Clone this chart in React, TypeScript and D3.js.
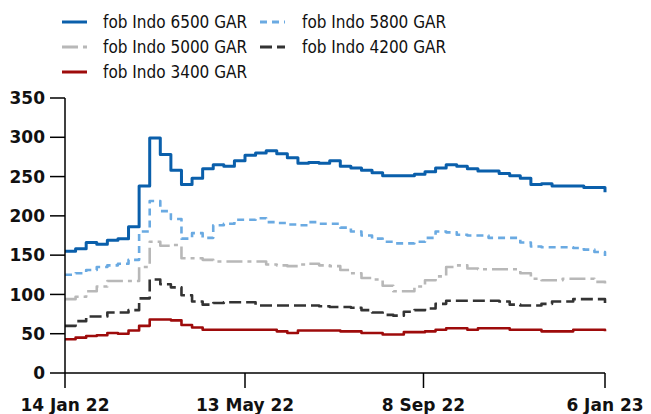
import React from "react";
import * as d3 from "d3";

const startDate = new Date(Date.UTC(2022, 0, 14));
const weeks: Date[] = d3.range(52).map((i) => d3.utcDay.offset(startDate, i * 7));

const fob6500 = [155, 158, 166, 164, 169, 171, 186, 238, 299, 278, 258, 240, 248, 260, 265, 263, 270, 277, 280, 283, 279, 274, 267, 268, 267, 270, 263, 261, 258, 255, 251, 251, 251, 253, 256, 261, 265, 263, 260, 257, 257, 254, 251, 248, 240, 241, 238, 238, 238, 236, 236, 230];
const fob5800 = [125, 127, 131, 135, 137, 139, 144, 180, 219, 206, 196, 171, 178, 172, 188, 190, 195, 195, 197, 192, 191, 189, 188, 192, 190, 190, 185, 180, 175, 171, 167, 165, 165, 167, 172, 180, 179, 176, 175, 175, 172, 172, 172, 166, 161, 160, 160, 160, 159, 157, 154, 149];
const fob5000 = [94, 97, 104, 110, 117, 117, 117, 135, 167, 162, 163, 146, 146, 144, 142, 142, 142, 142, 142, 138, 137, 136, 138, 139, 137, 136, 131, 127, 121, 119, 111, 104, 104, 110, 118, 123, 135, 137, 133, 132, 132, 132, 132, 127, 120, 118, 118, 120, 120, 120, 116, 114];
const fob4200 = [60, 66, 72, 72, 77, 77, 80, 95, 119, 113, 109, 99, 91, 87, 89, 90, 90, 90, 86, 86, 86, 86, 86, 86, 85, 84, 84, 83, 80, 77, 74, 73, 78, 80, 82, 88, 92, 92, 92, 92, 92, 91, 87, 86, 86, 88, 91, 91, 94, 94, 94, 89];
const fob3400 = [43, 45, 47, 48, 51, 50, 54, 60, 68, 68, 67, 61, 58, 55, 55, 55, 55, 55, 55, 55, 53, 51, 54, 54, 54, 54, 53, 53, 51, 51, 49, 49, 52, 52, 53, 55, 57, 57, 55, 57, 57, 57, 55, 55, 55, 53, 53, 53, 55, 55, 55, 53];

const seriesNames = ["fob Indo 6500 GAR", "fob Indo 5800 GAR", "fob Indo 5000 GAR", "fob Indo 4200 GAR", "fob Indo 3400 GAR"];
const yTicks = [0, 50, 100, 150, 200, 250, 300, 350];
const xTickDates = [
  new Date(Date.UTC(2022, 0, 14)),
  new Date(Date.UTC(2022, 4, 13)),
  new Date(Date.UTC(2022, 8, 8)),
  new Date(Date.UTC(2023, 0, 6)),
];

const series = [
  { name: seriesNames[0], values: fob6500, color: "#0a5fab", width: 3, dash: "" },
  { name: seriesNames[1], values: fob5800, color: "#6aaae2", width: 2.6, dash: "7,5" },
  { name: seriesNames[2], values: fob5000, color: "#b8b8b8", width: 2.6, dash: "16,5,4,5" },
  { name: seriesNames[3], values: fob4200, color: "#333333", width: 2.6, dash: "12,5" },
  { name: seriesNames[4], values: fob3400, color: "#9e0b0b", width: 2.6, dash: "" },
];

const legendLayout = [
  { col: 0, row: 0 },
  { col: 1, row: 0 },
  { col: 0, row: 1 },
  { col: 1, row: 1 },
  { col: 0, row: 2 },
];

export default function App() {
  const W = 651;
  const H = 414;
  const x = d3.scaleUtc().domain([weeks[0], weeks[weeks.length - 1]]).range([65, 605]);
  const y = d3.scaleLinear().domain([0, 350]).range([373, 98]);
  const fmt = d3.utcFormat("%-d %b %y");
  const line = d3
    .line<number>()
    .x((_, i) => x(weeks[i]))
    .y((d) => y(d))
    .curve(d3.curveStepAfter);

  const axisFont = "'DejaVu Sans', Verdana, sans-serif";
  const legendX = [62, 260];
  const legendTextX = [103, 302];
  const legendY = [22, 47, 72];

  return (
    <svg
      width={W}
      height={H}
      style={{ position: "absolute", left: 0, top: 0, background: "#fff" }}
    >
      {/* legend */}
      {series.map((s, i) => {
        const l = legendLayout[i];
        const lx = legendX[l.col];
        const ly = legendY[l.row];
        return (
          <g key={s.name}>
            <line
              x1={lx}
              x2={lx + 25}
              y1={ly}
              y2={ly}
              stroke={s.color}
              strokeWidth={3}
              strokeDasharray={s.dash || undefined}
            />
            <text
              x={legendTextX[l.col]}
              y={ly}
              dy="0.35em"
              fontFamily="'DejaVu Sans Condensed', 'DejaVu Sans', sans-serif"
              fontSize={17}
              fill="#111"
            >
              {s.name}
            </text>
          </g>
        );
      })}

      {/* lines */}
      {series.map((s) => (
        <path
          key={s.name}
          d={line(s.values) || ""}
          fill="none"
          stroke={s.color}
          strokeWidth={s.width}
          strokeDasharray={s.dash || undefined}
          strokeLinejoin="round"
        />
      ))}

      {/* y axis */}
      <line x1={65} x2={65} y1={y(350)} y2={y(0)} stroke="#000" strokeWidth={1.5} />
      {yTicks.map((t) => (
        <g key={t}>
          <line x1={50} x2={65} y1={y(t)} y2={y(t)} stroke="#000" strokeWidth={1.5} />
          <text
            x={45}
            y={y(t)}
            dy="0.36em"
            textAnchor="end"
            fontFamily={axisFont}
            fontWeight="bold"
            fontSize={17}
            fill="#111"
          >
            {t}
          </text>
        </g>
      ))}

      {/* x axis */}
      <line x1={65} x2={605} y1={y(0)} y2={y(0)} stroke="#000" strokeWidth={1.5} />
      {xTickDates.map((d) => (
        <g key={d.toISOString()}>
          <line x1={x(d)} x2={x(d)} y1={373} y2={388} stroke="#000" strokeWidth={1.5} />
          <text
            x={x(d)}
            y={411}
            textAnchor="middle"
            fontFamily={axisFont}
            fontWeight="bold"
            fontSize={17}
            fill="#111"
          >
            {fmt(d)}
          </text>
        </g>
      ))}
    </svg>
  );
}
